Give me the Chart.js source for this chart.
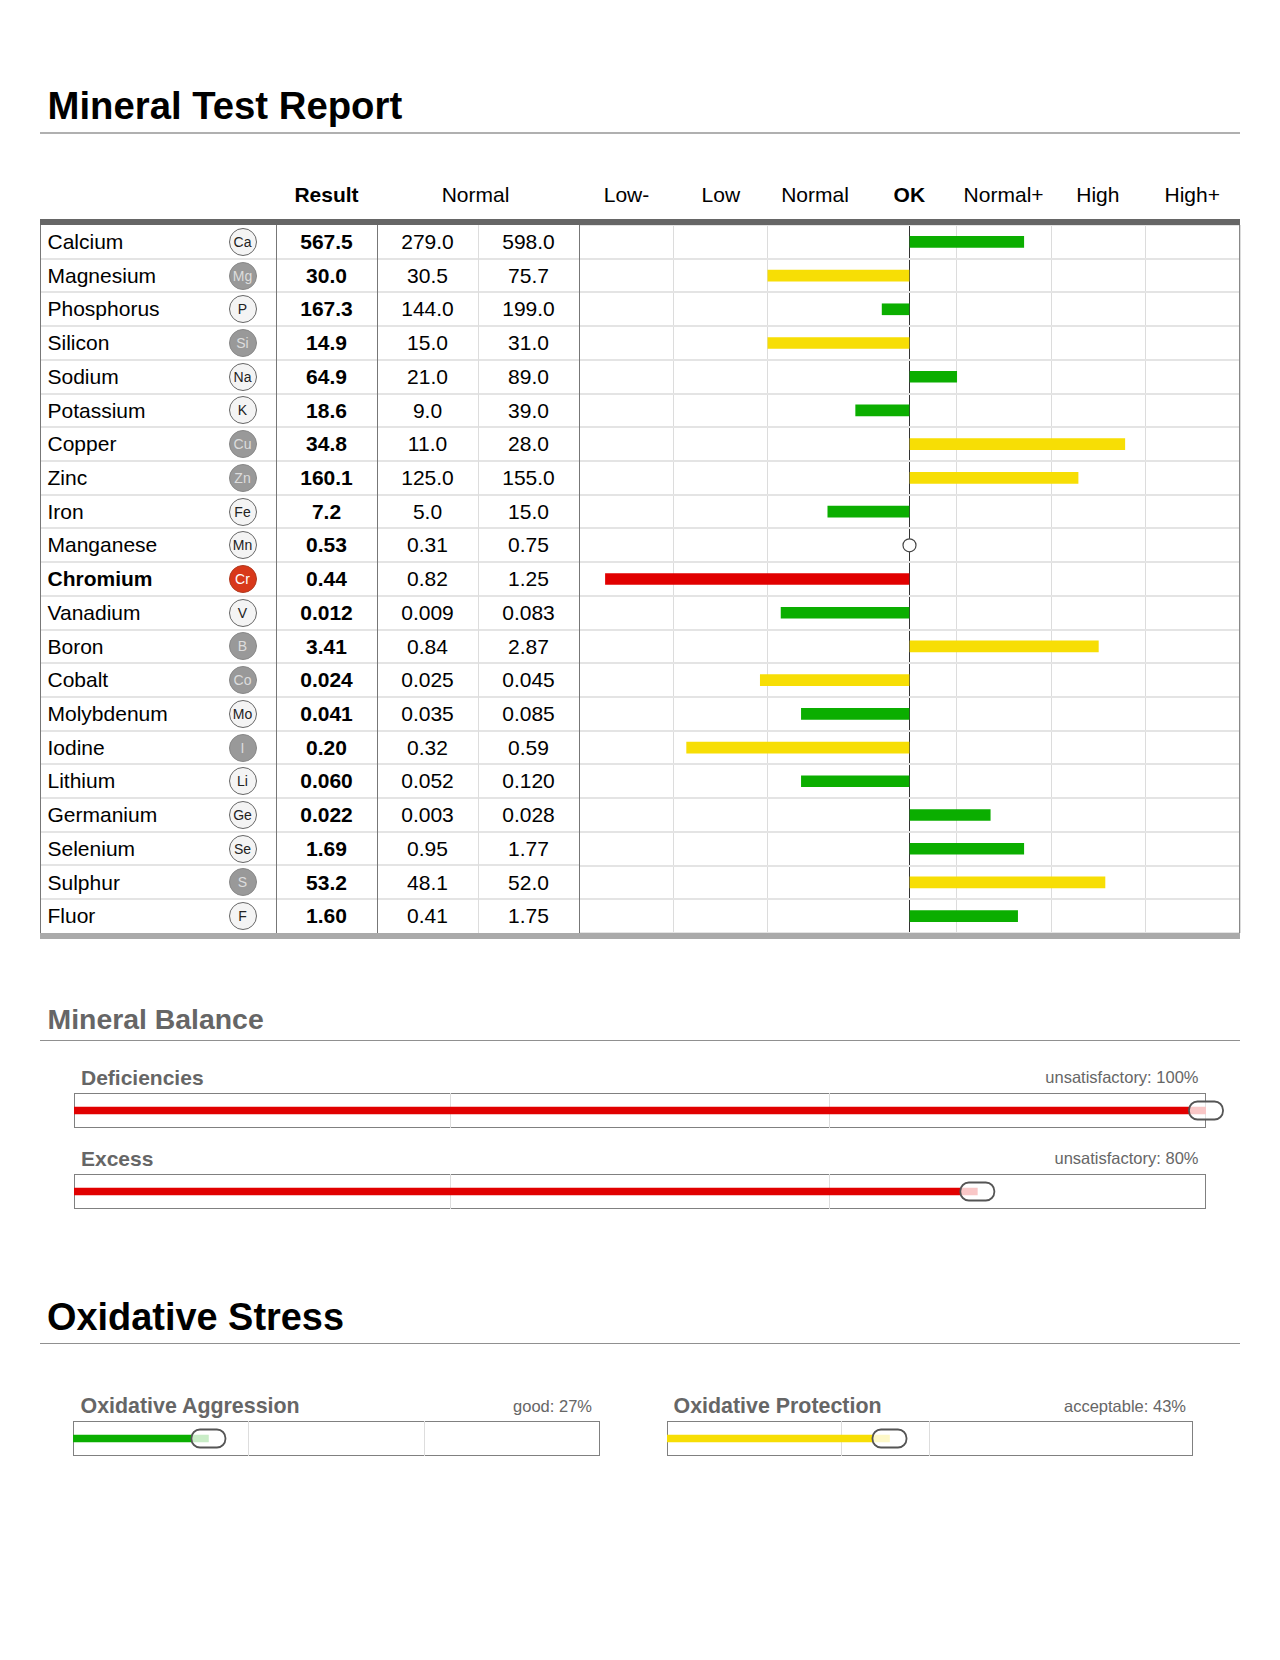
<!DOCTYPE html>
<html><head><meta charset="utf-8">
<script src="https://cdn.jsdelivr.net/npm/chart.js@4/dist/chart.umd.min.js"></script>
<style>
html,body{margin:0;padding:0;background:#fff;width:1280px;height:1660px;overflow:hidden}
body{position:relative;font-family:"Liberation Sans",Arial,sans-serif}
.t{position:absolute;line-height:0;white-space:nowrap}
.l{position:absolute}
canvas{position:absolute;display:block}
.b{position:absolute;box-sizing:border-box;width:28px;height:28px;border-radius:50%;border:1.3px solid #666;text-align:center;line-height:26px;font-size:14px}
</style></head><body>
<script>
const minerals=["Calcium","Magnesium","Phosphorus","Silicon","Sodium","Potassium","Copper","Zinc","Iron","Manganese","Chromium","Vanadium","Boron","Cobalt","Molybdenum","Iodine","Lithium","Germanium","Selenium","Sulphur","Fluor"];
const symbols=["Ca","Mg","P","Si","Na","K","Cu","Zn","Fe","Mn","Cr","V","B","Co","Mo","I","Li","Ge","Se","S","F"];
const results=["567.5","30.0","167.3","14.9","64.9","18.6","34.8","160.1","7.2","0.53","0.44","0.012","3.41","0.024","0.041","0.20","0.060","0.022","1.69","53.2","1.60"];
const normalLow=["279.0","30.5","144.0","15.0","21.0","9.0","11.0","125.0","5.0","0.31","0.82","0.009","0.84","0.025","0.035","0.32","0.052","0.003","0.95","48.1","0.41"];
const normalHigh=["598.0","75.7","199.0","31.0","89.0","39.0","28.0","155.0","15.0","0.75","1.25","0.083","2.87","0.045","0.085","0.59","0.120","0.028","1.77","52.0","1.75"];
const deviation=[1.21,-1.5,-0.29,-1.5,0.5,-0.57,2.28,1.785,-0.865,0,-3.22,-1.36,2.0,-1.58,-1.145,-2.36,-1.145,0.855,1.21,2.07,1.145];
const status=["g","y","g","y","g","g","y","y","g","n","r","g","y","y","g","y","g","g","g","y","g"];
const badgeKind=["w","d","w","d","w","w","d","d","w","w","r","w","d","d","w","d","w","w","w","d","w"];
const zoneLabels=["Low-","Low","Normal","OK","Normal+","High","High+"];
const zoneTicks=[-3.5,-2.5,-1.5,-0.5,0,0.5,1.5,2.5,3.5];
const gaugeNames=["Deficiencies","Excess","Oxidative Aggression","Oxidative Protection"];
const gaugeTexts=["unsatisfactory: 100%","unsatisfactory: 80%","good: 27%","acceptable: 43%"];
const gaugeValues=[100,79.8,25.7,42.3];
const gaugeColors=["r","r","g","y"];
const gaugeGrid=[[33.3,66.7],[33.3,66.7],[33.3,66.7],[33.2,49.9]];

const COL={g:"#0bae00",y:"#f7de05",r:"#e10000",n:"#ffffff"};
function txt(s,x,base,fs,o={}){const d=document.createElement('div');d.className='t';d.textContent=s;
 d.style.fontSize=fs+'px';d.style.top=(base-0.3465*fs)+'px';d.style.color=o.c||'#000';if(o.b)d.style.fontWeight='bold';
 if(o.a==='c'){d.style.left=x+'px';d.style.transform='translateX(-50%)';}
 else if(o.a==='r'){d.style.right=(1280-x)+'px';}else d.style.left=x+'px';
 document.body.appendChild(d);return d;}
function line(x,y,w,h,c){const d=document.createElement('div');d.className='l';d.style.cssText=`left:${x}px;top:${y}px;width:${w}px;height:${h}px;background:${c}`;document.body.appendChild(d);}

// headings
txt("Mineral Test Report",47.5,119.5,38.3,{b:1});
line(40,132,1200,2,"#b0b0b0");
txt("Mineral Balance",47.5,1028.5,28.4,{b:1,c:"#666"});
line(40,1040,1200,1,"#909090");
txt("Oxidative Stress",47,1330,37.9,{b:1});
line(40,1343,1200,1,"#909090");

// table
const T=225,RH=33.71,B=T+RH*21;
txt("Result",326.5,202.5,21,{b:1,a:'c'});
txt("Normal",475.5,202.5,21,{a:'c'});
const colX=[626.5,720.8,815,909.3,1003.6,1097.9,1192.2];
zoneLabels.forEach((s,i)=>txt(s,colX[i],202.5,21,{a:'c',b:s==="OK"}));
for(let i=1;i<21;i++)line(41,T+RH*i-1,538,2,"#e4e4e4");
[[40,"#777"],[276,"#777"],[377,"#777"],[478,"#ddd"],[579,"#777"]].forEach(v=>line(v[0],T,1,B-T,v[1]));
minerals.forEach((m,i)=>{
 const c=T+RH*(i+.5),bl=c+7.5;
 txt(m,47.5,bl,21,{b:m==="Chromium"});
 txt(results[i],326.5,bl,21,{b:1,a:'c'});
 txt(normalLow[i],427.5,bl,21,{a:'c'});
 txt(normalHigh[i],528.5,bl,21,{a:'c'});
 const d=document.createElement('div');d.className='b';d.textContent=symbols[i];
 d.style.left='228.5px';d.style.top=(c-14)+'px';
 const k=badgeKind[i];
 d.style.background=k==='w'?'#f4f4f4':k==='d'?'#999':'#d8381a';
 d.style.color=k==='w'?'#222':k==='d'?'#ddd':'#fff';
 if(k!=='w')d.style.borderColor=k==='d'?'#888':'#b03a20';
 document.body.appendChild(d);
});

// main chart
const cv=document.createElement('canvas');cv.style.left='579px';cv.style.top=T+'px';
cv.width=662;cv.height=Math.round(B-T);cv.style.width='662px';cv.style.height=cv.height+'px';document.body.appendChild(cv);
new Chart(cv,{type:'bar',data:{labels:minerals,datasets:[
 {type:'scatter',data:deviation.map((v,i)=>status[i]==='n'?{x:v,y:minerals[i]}:null).filter(Boolean),xAxisID:'x',yAxisID:'y',
  pointRadius:6.5,pointBackgroundColor:'#fff',pointBorderColor:'#444',pointBorderWidth:1.2,order:0},
 {type:'bar',data:deviation.map((v,i)=>status[i]==='n'?null:v),backgroundColor:status.map(s=>COL[s]),barThickness:11,borderWidth:0,xAxisID:'x',yAxisID:'y',order:1}
]},options:{indexAxis:'y',responsive:false,animation:false,devicePixelRatio:1,layout:{autoPadding:false,padding:{left:0,right:1,top:0,bottom:0}},
 plugins:{legend:{display:false},tooltip:{enabled:false}},
 scales:{
  x:{type:'linear',min:-3.5,max:3.5,afterBuildTicks:a=>{a.ticks=zoneTicks.map(v=>({value:v}));},
   ticks:{display:false},border:{display:false},
   grid:{drawTicks:false,lineWidth:1,color:c=>{const v=c.tick?c.tick.value:1;return v===0?'#333':v===-0.5?'rgba(0,0,0,0)':'#dcdcdc';}}},
  y:{type:'category',offset:true,ticks:{display:false},border:{display:false},grid:{offset:true,drawTicks:false,color:'#e4e4e4',lineWidth:2}}
 }}});
// redraw the vertical separators that sit on the chart's outer edge, and the frame
line(579,T,1,B-T,"#777");
line(40,219,1200,6,"#666");
line(40,B,1200,6,"#aaa");
line(1239,T,1,B-T,"#888");

// gauges
const G=[{x:74,w:1132,y:1093,h:35,lx:81,rx:1198.5,nb:1085.5,tb:1083},
         {x:74,w:1132,y:1174,h:35,lx:81,rx:1198.5,nb:1166.5,tb:1164},
         {x:73,w:527,y:1421,h:35,lx:80.5,rx:592,nb:1413,tb:1411.5},
         {x:667,w:526,y:1421,h:35,lx:673.5,rx:1186,nb:1413,tb:1411.5}];
const handle={id:'handle',afterDatasetsDraw(ch){
 const ctx=ch.ctx,val=ch.data.datasets[0].data[0];
 const px=ch.scales.x.getPixelForValue(val),py=ch.scales.y.getPixelForValue(0);
 ctx.save();ctx.beginPath();ctx.roundRect(px-17,py-9,34,18,8.5);
 ctx.fillStyle='rgba(255,255,255,.78)';ctx.fill();ctx.lineWidth=1.8;ctx.strokeStyle='#555';ctx.stroke();ctx.restore();
}};
G.forEach((g,i)=>{
 const PAD=20;
 const box=document.createElement('div');box.className='l';
 box.style.cssText=`left:${g.x}px;top:${g.y}px;width:${g.w}px;height:${g.h}px;box-sizing:border-box;border:1px solid #808080;background:#fff`;
 document.body.appendChild(box);
 txt(gaugeNames[i],g.lx,g.nb,i<2?21:21.4,{b:1,c:'#666'});
 txt(gaugeTexts[i],g.rx,g.tb,16.5,{a:'r',c:'#666'});
 const c=document.createElement('canvas');
 c.style.left=(g.x-PAD)+'px';c.style.top=g.y+'px';c.width=g.w+2*PAD;c.height=g.h;c.style.width=c.width+'px';c.style.height=c.height+'px';
 document.body.appendChild(c);
 new Chart(c,{type:'bar',plugins:[handle],data:{labels:[gaugeNames[i]],datasets:[{data:[gaugeValues[i]],backgroundColor:COL[gaugeColors[i]],barThickness:7,borderWidth:0}]},
  options:{indexAxis:'y',responsive:false,animation:false,devicePixelRatio:1,layout:{autoPadding:false,padding:{left:PAD,right:PAD,top:0,bottom:0}},
   plugins:{legend:{display:false},tooltip:{enabled:false}},
   scales:{x:{type:'linear',min:0,max:100,afterBuildTicks:a=>{a.ticks=gaugeGrid[i].map(v=>({value:v}));},ticks:{display:false},border:{display:false},grid:{drawTicks:false,color:'#ddd',lineWidth:1}},
    y:{type:'category',offset:true,ticks:{display:false},border:{display:false},grid:{display:false,drawTicks:false}}}}});
});
</script></body></html>
